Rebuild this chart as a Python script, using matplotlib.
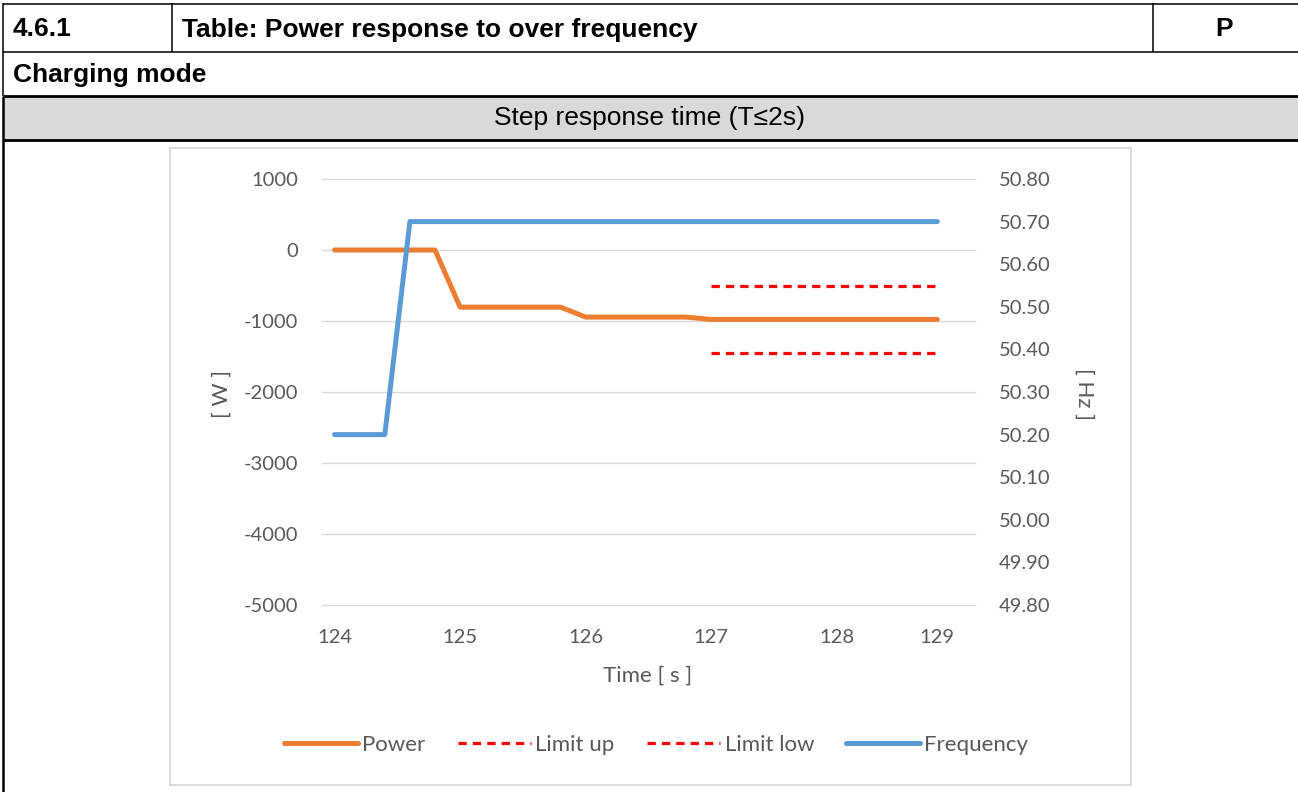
import matplotlib
matplotlib.use("Agg")
import matplotlib.pyplot as plt
from matplotlib.lines import Line2D
from matplotlib.patches import Rectangle
import numpy as np

# ---------------- data ----------------
time_s = [124.0, 124.2, 124.4, 124.6, 124.8, 125.0, 125.2, 125.4, 125.6, 125.8,
          126.0, 126.2, 126.4, 126.6, 126.8, 127.0, 127.2, 127.4, 127.6, 127.8,
          128.0, 128.2, 128.4, 128.6, 128.8]
power_w = [0, 0, 0, 0, 0, -805, -805, -805, -805, -805,
           -945, -945, -945, -945, -945, -978, -978, -978, -978, -978,
           -978, -978, -978, -978, -978]
limit_up_w = [np.nan] * 15 + [-500] * 10
limit_low_w = [np.nan] * 15 + [-1450] * 10
frequency_hz = [50.20, 50.20, 50.20, 50.70, 50.70, 50.70, 50.70, 50.70, 50.70, 50.70,
                50.70, 50.70, 50.70, 50.70, 50.70, 50.70, 50.70, 50.70, 50.70, 50.70,
                50.70, 50.70, 50.70, 50.70, 50.70]
left_ticks = [-5000, -4000, -3000, -2000, -1000, 0, 1000]
right_ticks = [49.80, 49.90, 50.00, 50.10, 50.20, 50.30, 50.40, 50.50, 50.60, 50.70, 50.80]
label_idx = [0, 5, 10, 15, 20, 24]

header_num = "4.6.1"
header_title = "Table: Power response to over frequency"
header_verdict = "P"
mode_text = "Charging mode"
section_text = "Step response time (T\u22642s)"

# ---------------- figure ----------------
W, H = 1298, 792
fig = plt.figure(figsize=(W / 100, H / 100), dpi=100)
fig.patch.set_facecolor("white")

def fx(x):
    return x / W

def fy(y):
    return 1 - y / H

def hline(y, x0, x1, lw):
    fig.add_artist(Line2D([fx(x0), fx(x1)], [fy(y), fy(y)], transform=fig.transFigure,
                          color="black", lw=lw, solid_capstyle="butt", zorder=-1))

def vline(x, y0, y1, lw):
    fig.add_artist(Line2D([fx(x), fx(x)], [fy(y0), fy(y1)], transform=fig.transFigure,
                          color="black", lw=lw, solid_capstyle="butt", zorder=-1))

# gray header band
fig.add_artist(Rectangle((fx(3), fy(140)), fx(1298 - 3), (140 - 96) / H,
                         transform=fig.transFigure, facecolor="#d9d9d9", edgecolor="none",
                         zorder=-2))
# table lines
hline(3.5, 2.5, 1298, 1.1)
hline(51.7, 2.5, 1298, 1.1)
hline(95.8, 2.5, 1298, 2.0)
hline(140.0, 2.5, 1298, 2.0)
vline(3.3, 3, 96, 1.1)
vline(3.3, 96, 792, 1.8)
vline(171.7, 3, 51.7, 1.1)
vline(1153.3, 3, 51.7, 1.1)

tf = ["Liberation Sans", "DejaVu Sans"]
hs = 19
fig.text(fx(13), fy(29.5), header_num, fontsize=hs, fontweight="bold", family=tf,
         ha="left", va="center")
fig.text(fx(182), fy(29.5), header_title, fontsize=hs, fontweight="bold", family=tf,
         ha="left", va="center")
fig.text(fx(1224), fy(29.5), header_verdict, fontsize=hs, fontweight="bold", family=tf,
         ha="center", va="center")
fig.text(fx(13), fy(75), mode_text, fontsize=hs, fontweight="bold", family=tf,
         ha="left", va="center")
fig.text(fx(649), fy(118.5), section_text, fontsize=hs, family=tf,
         ha="center", va="center")

# chart area frame
fig.add_artist(Rectangle((fx(170), fy(785)), (1131 - 170) / W, (785 - 148) / H,
                         transform=fig.transFigure, facecolor="white",
                         edgecolor="#d9d9d9", lw=1.3, zorder=-1))

# ---------------- chart ----------------
cf = ["Lato", "DejaVu Sans"]
tc = "#595959"
fs = 14.5     # tick labels
ls_ = 16      # titles / legend

ax = fig.add_axes([fx(322), fy(605), (975 - 322) / W, (605 - 179) / H])
ax.set_facecolor("none")
x = np.arange(len(time_s))

l_power, = ax.plot(x, power_w, color="#ED7D31", lw=3.6, solid_capstyle="round",
                   solid_joinstyle="round", label="Power", zorder=3)
l_up, = ax.plot(x, limit_up_w, color="#FF0000", lw=2.3, ls=(0, (2.6, 1.9)),
                label="Limit up", zorder=3)
l_low, = ax.plot(x, limit_low_w, color="#FF0000", lw=2.3, ls=(0, (2.6, 1.9)),
                 label="Limit low", zorder=3)

ax.set_xlim(-0.5, len(time_s) + 0.5)
ax.set_ylim(left_ticks[0], left_ticks[-1])
ax.set_yticks(left_ticks)
ax.set_yticklabels([f"{v:d}" for v in left_ticks])
ax.set_xticks(label_idx)
ax.set_xticklabels([f"{time_s[i]:.0f}" for i in label_idx])
ax.grid(axis="y", color="#d9d9d9", lw=1.0)
for gl in ax.get_ygridlines():
    gl.set_clip_on(False)
ax.set_axisbelow(True)
for s in ax.spines.values():
    s.set_visible(False)
ax.tick_params(axis="y", length=0, pad=17, labelsize=fs, labelcolor=tc)
ax.tick_params(axis="x", length=0, pad=17, labelsize=fs, labelcolor=tc)
for t in ax.get_xticklabels() + ax.get_yticklabels():
    t.set_family(cf)

ax2 = ax.twinx()
l_freq, = ax2.plot(x, frequency_hz, color="#5B9BD5", lw=3.6, solid_capstyle="round",
                   solid_joinstyle="round", label="Frequency", zorder=3)
ax2.set_ylim(right_ticks[0], right_ticks[-1])
ax2.set_yticks(right_ticks)
ax2.set_yticklabels([f"{v:.2f}" for v in right_ticks])
for s in ax2.spines.values():
    s.set_visible(False)
ax2.tick_params(axis="y", length=0, pad=17, labelsize=fs, labelcolor=tc)
for t in ax2.get_yticklabels():
    t.set_family(cf)

ax.set_ylabel("[ W ]", fontsize=ls_, color=tc, family=cf, va="center")
ax.yaxis.set_label_coords(-0.153, 0.495)
ax2.set_ylabel("[ Hz ]", fontsize=ls_, color=tc, family=cf, rotation=-90, va="center")
ax2.yaxis.set_label_coords(1.168, 0.495)
ax.set_xlabel("Time [ s ]", fontsize=ls_, color=tc, family=cf, va="center")
ax.xaxis.set_label_coords(0.498, -0.166)

leg = ax.legend([l_power, l_up, l_low, l_freq],
                ["Power", "Limit up", "Limit low", "Frequency"],
                loc="center", bbox_to_anchor=(0.512, -0.329), ncol=4, frameon=False,
                handlelength=3.3, handletextpad=0.2, columnspacing=1.45,
                prop={"family": cf, "size": ls_})
for t in leg.get_texts():
    t.set_color(tc)

fig.savefig("out.png", dpi=100, facecolor="white")
